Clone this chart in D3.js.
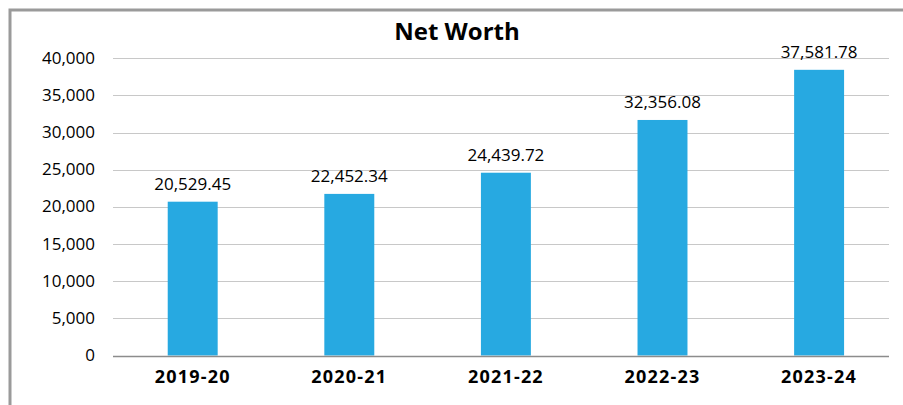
<!DOCTYPE html>
<html>
<head>
<meta charset="utf-8">
<script src="https://cdn.jsdelivr.net/npm/d3@7"></script>
<style>
  body { margin: 0; background: #fff; }
  text { font-family: "Open Sans", sans-serif; fill: #000; }
</style>
</head>
<body>
<script>
// data
var years = ["2019-20", "2020-21", "2021-22", "2022-23", "2023-24"];
var netWorth = [20529.45, 22452.34, 24439.72, 32356.08, 37581.78];   // printed labels
var barHeights = [20700, 21750, 24600, 31700, 38450];               // bar tops as drawn
var yTicks = [0, 5000, 10000, 15000, 20000, 25000, 30000, 35000, 40000];

var totalWidth = 903;
var totalHeight = 405;
var plot = {left: 113, right: 889, top: 58.3, bottom: 355.5};

var svg = d3.select("body")
    .append("svg")
    .attr("width", totalWidth)
    .attr("height", totalHeight);

// frame (only top + left edges visible)
svg.append("path")
   .attr("d", "M10,405 L10,10 L903,10")
   .attr("fill", "none")
   .attr("stroke", "#9a9a9a")
   .attr("stroke-width", 3);

var y = d3.scaleLinear()
          .domain([0, 40000])
          .range([plot.bottom, plot.top]);

var x = d3.scaleBand()
          .domain(years)
          .range([114.4, 897.4])
          .paddingInner(0.681)
          .paddingOuter(0.3405);

var fmtTick = d3.format(",");
var fmtVal = d3.format(",.2f");

// gridlines
svg.selectAll("line.grid")
   .data(yTicks.filter(d => d > 0))
   .enter()
   .append("line")
   .attr("class", "grid")
   .attr("x1", plot.left)
   .attr("x2", plot.right)
   .attr("y1", d => Math.round(y(d)) + 0.5)
   .attr("y2", d => Math.round(y(d)) + 0.5)
   .attr("stroke", "#c8c8c8")
   .attr("stroke-width", 1);

// y tick labels
svg.selectAll("text.ytick")
   .data(yTicks)
   .enter()
   .append("text")
   .attr("class", "ytick")
   .attr("x", 95)
   .attr("y", d => y(d) + 5.5)
   .attr("text-anchor", "end")
   .attr("font-size", 17)
   .text(d => fmtTick(d));

// bars
svg.selectAll("rect.bar")
   .data(years)
   .enter()
   .append("rect")
   .attr("class", "bar")
   .attr("x", d => x(d))
   .attr("width", x.bandwidth())
   .attr("y", (d, i) => y(barHeights[i]))
   .attr("height", (d, i) => y(0) - y(barHeights[i]))
   .attr("fill", "#27a9e1");

// baseline axis
svg.append("line")
   .attr("x1", plot.left)
   .attr("x2", plot.right)
   .attr("y1", Math.round(y(0)) + 0.5)
   .attr("y2", Math.round(y(0)) + 0.5)
   .attr("stroke", "#8c8c8c")
   .attr("stroke-width", 1.5);

// value labels
svg.selectAll("text.val")
   .data(years)
   .enter()
   .append("text")
   .attr("class", "val")
   .attr("x", d => x(d) + x.bandwidth() / 2)
   .attr("y", (d, i) => y(barHeights[i]) - 12)
   .attr("text-anchor", "middle")
   .attr("font-size", 17)
   .text((d, i) => fmtVal(netWorth[i]));

// category labels
svg.selectAll("text.cat")
   .data(years)
   .enter()
   .append("text")
   .attr("class", "cat")
   .attr("x", d => x(d) + x.bandwidth() / 2)
   .attr("y", 382.7)
   .attr("text-anchor", "middle")
   .attr("font-size", 18)
   .attr("font-weight", "bold")
   .attr("letter-spacing", 1.2)
   .text(d => d);

// title
svg.append("text")
   .attr("x", 457)
   .attr("y", 40)
   .attr("text-anchor", "middle")
   .attr("font-size", 24)
   .attr("font-weight", "bold")
   .text("Net Worth");
</script>
</body>
</html>
